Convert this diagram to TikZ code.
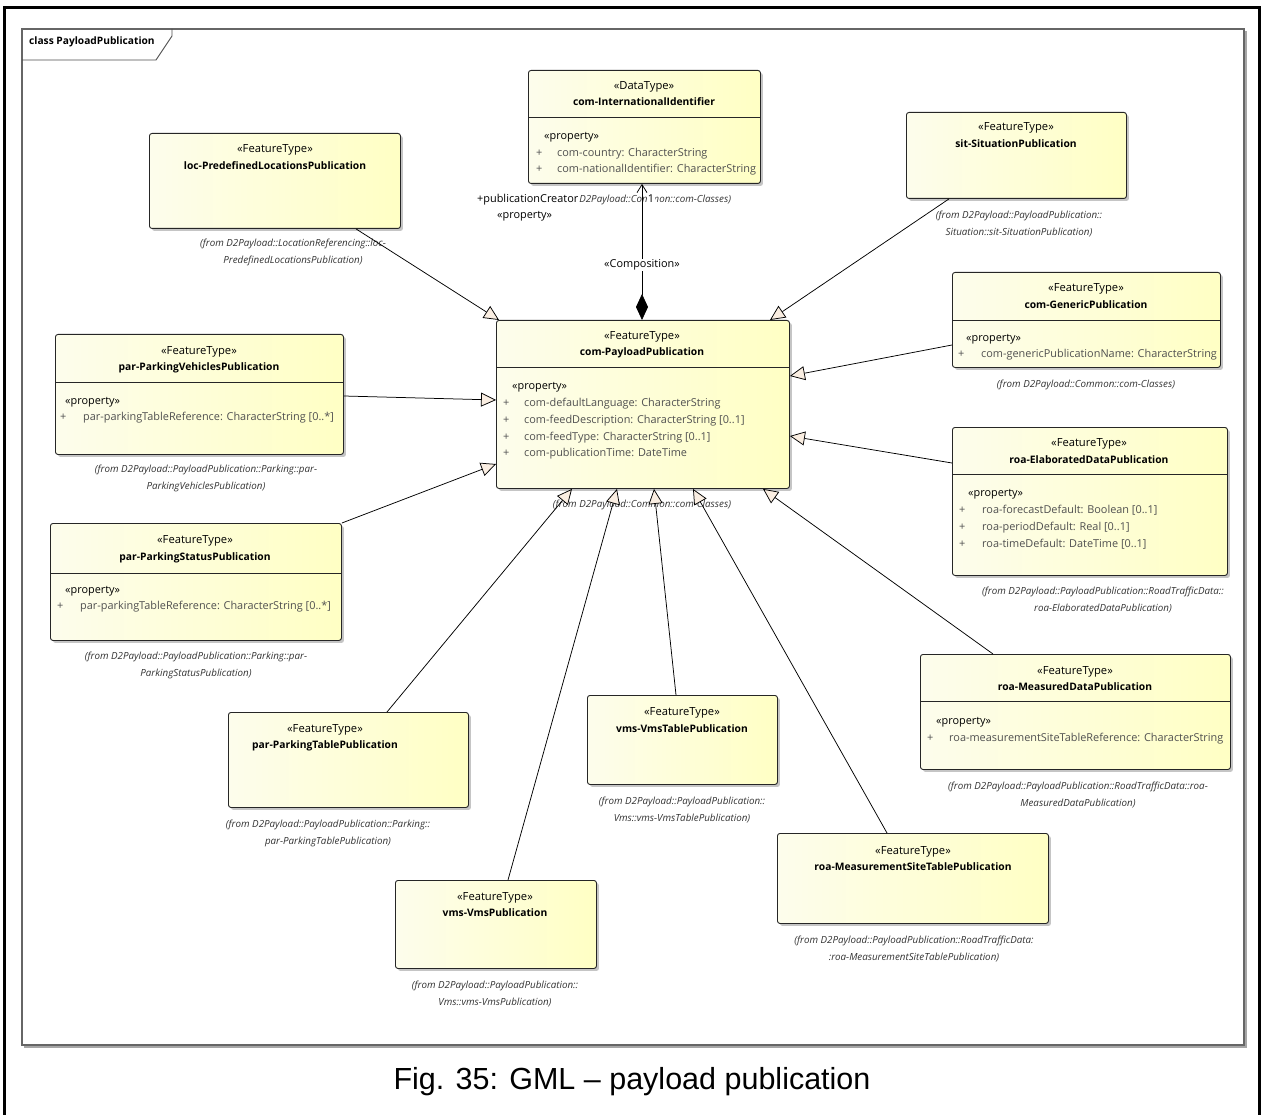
\documentclass[tikz,border=0pt]{standalone}
\usepackage{fontspec}
\setmainfont{Open Sans}
\newfontfamily\capfont{Liberation Sans}
\usetikzlibrary{arrows.meta,shadows,calc}
\definecolor{boxL}{RGB}{253,253,236}
\definecolor{boxR}{RGB}{255,255,196}
\definecolor{genfill}{RGB}{250,238,226}
\definecolor{propgray}{RGB}{80,80,80}
\definecolor{fromgray}{RGB}{50,50,50}
\begin{document}
\begin{tikzpicture}[x=1pt,y=-1pt,
  cls/.style={draw=black!85, line width=0.9pt, rounded corners=2.5pt, anchor=north west,
    inner sep=0pt, left color=boxL, right color=boxR,
    drop shadow={shadow xshift=2.5pt, shadow yshift=-2.5pt, fill=black!45, opacity=0.5}},
  sepl/.style={draw=black!85, line width=0.9pt},
  ster/.style={anchor=mid, inner sep=0pt, font=\fontsize{11.2}{13}\selectfont},
  cname/.style={anchor=mid, inner sep=0pt, font=\fontsize{10.3}{13}\selectfont\bfseries},
  prst/.style={anchor=mid west, inner sep=0pt, font=\fontsize{10.9}{13}\selectfont},
  prop/.style={anchor=mid west, inner sep=0pt, text=propgray, font=\fontsize{10.9}{13}\selectfont},
  from/.style={anchor=mid, inner sep=0pt, text=fromgray, font=\fontsize{9.8}{17}\selectfont\itshape, align=center},
  gen/.style={draw=black, line width=0.75pt, -{Triangle[length=15pt,width=14pt,fill=genfill]}},
  comp/.style={draw=black, line width=0.75pt, {Diamond[length=26pt,width=12pt]}-{Straight Barb[length=8pt,width=10pt]}},
  lbl/.style={inner sep=1pt, font=\fontsize{10.9}{13}\selectfont, fill=white},
]
\useasboundingbox (0,0) rectangle (1264,1115);
% page border
\draw[line width=3pt] (4.5,1125) -- (4.5,7.5) -- (1259.5,7.5) -- (1259.5,1125);
% diagram frame
\draw[black!35, line width=2pt] (24,1047) -- (1246,1047) -- (1246,31);
\draw[black!60, line width=1.1pt] (22,29) rectangle (1244,1045);
\draw[black!70, line width=0.9pt] (22,60) -- (156,60) -- (172,36) -- (172,29);
\node[anchor=mid west, inner sep=0pt, font=\fontsize{10.2}{12}\selectfont\bfseries] (frm) at (29,42) {class PayloadPublication};

% ---------- boxes ----------
\node[cls, minimum width=232pt, minimum height=113pt] (dt) at (528,70) {};
\node[cls, minimum width=251pt, minimum height=95pt] (loc) at (149,133) {};
\node[cls, minimum width=220pt, minimum height=86pt] (sit) at (906,112) {};
\node[cls, minimum width=268pt, minimum height=95pt] (gp) at (952,272) {};
\node[cls, minimum width=293pt, minimum height=168pt] (pp) at (496,320) {};
\node[cls, minimum width=288pt, minimum height=120pt] (pv) at (55,334) {};
\node[cls, minimum width=291pt, minimum height=117pt] (ps) at (50,523) {};
\node[cls, minimum width=275pt, minimum height=148pt] (ed) at (952,427) {};
\node[cls, minimum width=310pt, minimum height=115pt] (md) at (920,654) {};
\node[cls, minimum width=240pt, minimum height=95pt] (pt) at (228,712) {};
\node[cls, minimum width=190pt, minimum height=89pt] (vmst) at (587,695) {};
\node[cls, minimum width=271pt, minimum height=90pt] (mst) at (777,833) {};
\node[cls, minimum width=201pt, minimum height=88pt] (vms) at (395,880) {};

% separators
\draw[sepl] (dt.west |- 0,117) -- (dt.east |- 0,117);
\draw[sepl] (pp.west |- 0,367) -- (pp.east |- 0,367);
\draw[sepl] (gp.west |- 0,320) -- (gp.east |- 0,320);
\draw[sepl] (pv.west |- 0,382) -- (pv.east |- 0,382);
\draw[sepl] (ps.west |- 0,573) -- (ps.east |- 0,573);
\draw[sepl] (ed.west |- 0,474) -- (ed.east |- 0,474);
\draw[sepl] (md.west |- 0,701) -- (md.east |- 0,701);

% ---------- box texts ----------
% DataType
\node[ster] (dt-s) at (644,87) {«DataType»};
\node[cname] (dt-n) at (644,103) {com-InternationalIdentifier};
\node[prst] (dt-p) at (544,137) {«property»};
\node[prop] (dt-a1) at (536,154) {+};
\node[prop] (dt-b1) at (557,154) {com-country: CharacterString};
\node[prop] (dt-a2) at (536,170) {+};
\node[prop] (dt-b2) at (557,170) {com-nationalIdentifier: CharacterString};
% loc
\node[ster] (loc-s) at (275,150) {«FeatureType»};
\node[cname] (loc-n) at (275,167) {loc-PredefinedLocationsPublication};
% sit
\node[ster] (sit-s) at (1016,128) {«FeatureType»};
\node[cname] (sit-n) at (1016,145) {sit-SituationPublication};
% generic
\node[ster] (gp-s) at (1086,289) {«FeatureType»};
\node[cname] (gp-n) at (1086,306) {com-GenericPublication};
\node[prst] (gp-p) at (966,339) {«property»};
\node[prop] (gp-a1) at (958,355) {+};
\node[prop] (gp-b1) at (981,355) {com-genericPublicationName: CharacterString};
% payload
\node[ster] (pp-s) at (642,337) {«FeatureType»};
\node[cname] (pp-n) at (642,353) {com-PayloadPublication};
\node[prst] (pp-p) at (512,387) {«property»};
\node[prop] (pp-a1) at (503,404) {+};
\node[prop] (pp-b1) at (524,404) {com-defaultLanguage: CharacterString};
\node[prop] (pp-a2) at (503,421) {+};
\node[prop] (pp-b2) at (524,421) {com-feedDescription: CharacterString [0..1]};
\node[prop] (pp-a3) at (503,438) {+};
\node[prop] (pp-b3) at (524,438) {com-feedType: CharacterString [0..1]};
\node[prop] (pp-a4) at (503,454) {+};
\node[prop] (pp-b4) at (524,454) {com-publicationTime: DateTime};
% parking vehicles
\node[ster] (pv-s) at (199,352) {«FeatureType»};
\node[cname] (pv-n) at (199,368) {par-ParkingVehiclesPublication};
\node[prst] (pv-p) at (65,402) {«property»};
\node[prop] (pv-a1) at (60,418) {+};
\node[prop] (pv-b1) at (83,418) {par-parkingTableReference: CharacterString [0..*]};
% parking status
\node[ster] (ps-s) at (195,541) {«FeatureType»};
\node[cname] (ps-n) at (195,558) {par-ParkingStatusPublication};
\node[prst] (ps-p) at (65,591) {«property»};
\node[prop] (ps-a1) at (57,607) {+};
\node[prop] (ps-b1) at (80,607) {par-parkingTableReference: CharacterString [0..*]};
% elaborated
\node[ster] (ed-s) at (1089,444) {«FeatureType»};
\node[cname] (ed-n) at (1089,461) {roa-ElaboratedDataPublication};
\node[prst] (ed-p) at (968,494) {«property»};
\node[prop] (ed-a1) at (959,511) {+};
\node[prop] (ed-b1) at (982,511) {roa-forecastDefault: Boolean [0..1]};
\node[prop] (ed-a2) at (959,528) {+};
\node[prop] (ed-b2) at (982,528) {roa-periodDefault: Real [0..1]};
\node[prop] (ed-a3) at (959,545) {+};
\node[prop] (ed-b3) at (982,545) {roa-timeDefault: DateTime [0..1]};
% measured
\node[ster] (md-s) at (1075,672) {«FeatureType»};
\node[cname] (md-n) at (1075,688) {roa-MeasuredDataPublication};
\node[prst] (md-p) at (936,722) {«property»};
\node[prop] (md-a1) at (927,739) {+};
\node[prop] (md-b1) at (949,739) {roa-measurementSiteTableReference: CharacterString};
% parking table
\node[ster] (pt-s) at (325,730) {«FeatureType»};
\node[cname] (pt-n) at (325,746) {par-ParkingTablePublication};
% vms table
\node[ster] (vmst-s) at (682,713) {«FeatureType»};
\node[cname] (vmst-n) at (682,730) {vms-VmsTablePublication};
% measurement site table
\node[ster] (mst-s) at (913,852) {«FeatureType»};
\node[cname] (mst-n) at (913,868) {roa-MeasurementSiteTablePublication};
% vms
\node[ster] (vms-s) at (495,898) {«FeatureType»};
\node[cname] (vms-n) at (495,914) {vms-VmsPublication};

% ---------- "from" labels ----------
\node[from] (loc-f) at (293,261) {(from D2Payload::LocationReferencing::loc-\\PredefinedLocationsPublication)};
\node[from] (sit-f) at (1019,233) {(from D2Payload::PayloadPublication::\\Situation::sit-SituationPublication)};
\node[from] (gp-f) at (1086,385) {(from D2Payload::Common::com-Classes)};
\node[from] (pp-f) at (642,505) {(from D2Payload::Common::com-Classes)};
\node[from] (pv-f) at (206,487) {(from D2Payload::PayloadPublication::Parking::par-\\ParkingVehiclesPublication)};
\node[from] (ps-f) at (196,674) {(from D2Payload::PayloadPublication::Parking::par-\\ParkingStatusPublication)};
\node[from] (ed-f) at (1103,609) {(from D2Payload::PayloadPublication::RoadTrafficData::\\roa-ElaboratedDataPublication)};
\node[from] (md-f) at (1078,804) {(from D2Payload::PayloadPublication::RoadTrafficData::roa-\\MeasuredDataPublication)};
\node[from] (pt-f) at (328,842) {(from D2Payload::PayloadPublication::Parking::\\par-ParkingTablePublication)};
\node[from] (vmst-f) at (682,819) {(from D2Payload::PayloadPublication::\\Vms::vms-VmsTablePublication)};
\node[from] (mst-f) at (914,958) {(from D2Payload::PayloadPublication::RoadTrafficData:\\:roa-MeasurementSiteTablePublication)};
\node[from] (vms-f) at (495,1003) {(from D2Payload::PayloadPublication::\\Vms::vms-VmsPublication)};
\node[from] (dt-f) at (642,200) {(from D2Payload::Common::com-Classes)};

% ---------- composition ----------
\draw[comp] ([xshift=146pt]pp.north west) coordinate (c1) -- (c1 |- dt.south);
\node[lbl, anchor=mid west] (role) at (476,200) {+publicationCreator};
\node[lbl, anchor=mid west, fill=none, inner sep=0pt] (rolest) at (497,216) {«property»};
\node[lbl, anchor=mid, inner sep=0.5pt] (mult) at (651,200) {1};
\node[lbl, anchor=mid] (cmp) at (642,265) {«Composition»};

% ---------- generalizations ----------
\draw[gen] ([xshift=207pt]loc.south west) -- ([xshift=3pt]pp.north west);
\draw[gen] ([xshift=43pt]sit.south west) -- ([xshift=274pt]pp.north west);
\draw[gen] ([yshift=-73pt]gp.north west) -- ([yshift=-56pt]pp.north east);
\draw[gen] ([yshift=-36pt]ed.north west) -- ([yshift=-116pt]pp.north east);
\draw[gen] ([yshift=-62pt]pv.north east) -- ([yshift=-80pt]pp.north west);
\draw[gen] (ps.north east) -- ([yshift=-144pt]pp.north west);
\draw[gen] ([xshift=159pt]pt.north west) -- ([xshift=76pt]pp.south west);
\draw[gen] ([xshift=113pt]vms.north west) -- ([xshift=121pt]pp.south west);
\draw[gen] ([xshift=89pt]vmst.north west) -- ([xshift=158pt]pp.south west);
\draw[gen] ([xshift=110pt]mst.north west) -- ([xshift=197pt]pp.south west);
\draw[gen] ([xshift=73pt]md.north west) -- ([xshift=267pt]pp.south west);

% ---------- caption ----------
\node[font=\capfont\fontsize{30.5}{34}\selectfont, inner sep=0pt] (cap) at (632,1082) {Fig. 35: GML – payload publication};
\end{tikzpicture}
\end{document}
